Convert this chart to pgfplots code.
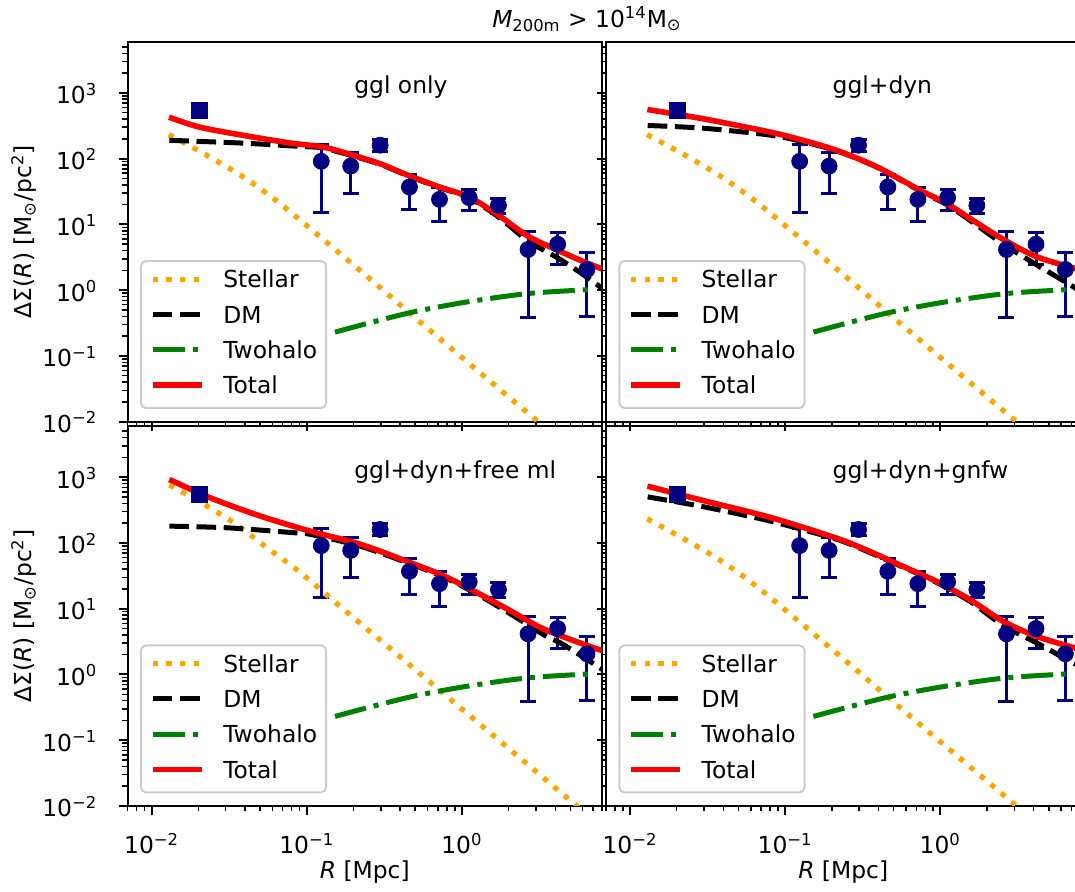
\documentclass[border=0pt]{standalone}
\usepackage{fontspec}
\setmainfont{DejaVu Sans}
\usepackage{pgfplots}
\pgfplotsset{compat=1.18}
\usepackage{pgfplotstable}
\definecolor{navy}{HTML}{000080}
\definecolor{mplorange}{HTML}{FFA500}
\definecolor{mplgreen}{HTML}{008000}
\definecolor{mplred}{HTML}{FF0000}
\newcommand{\fs}{\fontsize{11.7pt}{14pt}\selectfont}

\pgfplotstableread{
x y ep em
0.124 91 74 76
0.192 77 46 47.7
0.297 160 36 32
0.459 37 20 20.3
0.717 24 13 13.1
1.114 25.5 8.2 9.1
1.72 19.5 5.5 4.9
2.67 4.15 3.55 3.76
4.14 5.0 2.4 2.55
6.4 2.06 1.74 1.66
}\datatab

\pgfplotsset{
  legend image code/.code={\draw[#1] (0pt,4.3pt) -- (24.5pt,4.3pt);},
  every axis/.append style={
    scale only axis, width=237.2pt, height=190pt, anchor=south west,
    xmin=0.007, xmax=8, ymin=0.01, ymax=6000,
    tick align=outside, xtick pos=bottom, ytick pos=left,
    xtick={0.01,0.1,1}, ytick={0.01,0.1,1,10,100,1000},
    minor xtick={0.007,0.008,0.009,0.02,0.03,0.04,0.05,0.06,0.07,0.08,0.09,0.2,0.3,0.4,0.5,0.6,0.7,0.8,0.9,2,3,4,5,6,7,8},
    minor ytick={0.02,0.03,0.04,0.05,0.06,0.07,0.08,0.09,0.2,0.3,0.4,0.5,0.6,0.7,0.8,0.9,2,3,4,5,6,7,8,9,20,30,40,50,60,70,80,90,200,300,400,500,600,700,800,900,2000,3000,4000,5000},
    major tick length=4.5pt, minor tick length=2.6pt,
    every tick/.append style={black},
    every major tick/.append style={line width=1pt},
    every minor tick/.append style={line width=0.75pt},
    axis line style={line width=1pt},
    xticklabel style={font=\fs, anchor=base, inner sep=0pt, yshift=-19.5pt},
    yticklabel style={font=\fs, anchor=base east, inner sep=0pt, xshift=-10.5pt, yshift=-5.5pt},
    every axis y label/.style={at={(axis description cs:-0.2184,0.5)}, rotate=90, anchor=center, font=\fs},
    every axis x label/.style={at={(axis description cs:0.5,-0.1895)}, anchor=base, font=\fs},
    legend cell align=left,
    legend style={at={(0.0261,0.0334)}, anchor=south west, draw=black!20, line width=1pt,
      rounded corners=2.5pt, fill=white, font=\fs, inner xsep=4.5pt, inner ysep=4.9pt,
      row sep=6.95pt, column sep=9.35pt,
      cells={anchor=base west},
      nodes={inner sep=0pt, text height=8.5pt, text depth=2.2pt}},
  },
  stellar/.style={color=mplorange, line width=2.6pt, dash pattern=on 2.6pt off 4.2pt, smooth, tension=0.5},
  dm/.style={color=black, line width=2.5pt, dash pattern=on 9.8pt off 3.8pt, smooth, tension=0.5},
  twoh/.style={color=mplgreen, line width=2.5pt, dash pattern=on 16pt off 4pt on 2.5pt off 4pt, smooth, tension=0.5},
  total/.style={color=mplred, line width=2.8pt, smooth, tension=0.5},
}

\newcommand{\xlabs}{10\textsuperscript{−2},10\textsuperscript{−1},10\textsuperscript{0}}
\newcommand{\ylabs}{10\textsuperscript{−2},10\textsuperscript{−1},10\textsuperscript{0},10\textsuperscript{1},10\textsuperscript{2},10\textsuperscript{3}}

\newcommand{\datapts}{%
  \addplot[forget plot, only marks, mark=*, mark size=4pt, color=navy,
    error bars/.cd, y dir=both, y explicit, error mark=-,
    error bar style={line width=1.5pt, color=navy},
    error mark options={rotate=90, line width=1.5pt, mark size=4pt, color=navy}]
    table[x=x, y=y, y error plus=ep, y error minus=em] {\datatab};
  \addplot[forget plot, only marks, mark=square*, mark size=4pt, color=navy] coordinates {(0.0202,545)};
}
\newcommand{\twohalo}{%
  \addplot[twoh] coordinates {(0.152,0.230) (0.251,0.316) (0.49,0.468) (1.07,0.66) (2.69,0.89) (6.76,1.02)};
  \addlegendentry{Twohalo}
}
\newcommand{\stellarstd}{%
  \addplot[stellar] coordinates {(0.0129,232) (0.02377,105.4) (0.04055,49.5) (0.0673,20.7) (0.1279,5.875) (0.2438,1.629) (0.4634,0.4426) (0.879,0.1227) (1.663,0.03451) (3.141,0.00971) (8.0,0.00148)};
  \addlegendentry{Stellar}
}

\begin{document}
\begin{tikzpicture}
% top left: ggl only
\begin{loglogaxis}[at={(63.8pt,235.15pt)}, xticklabels={}, yticklabels/.expand once={\ylabs},
  ylabel={ΔΣ({\itshape R}) [M\textsubscript{⊙}/pc\textsuperscript{2}]}]
  \datapts
  \stellarstd
  \addplot[dm] coordinates {(0.0130,190) (0.0390,172) (0.0794,156) (0.1279,146) (0.16,126) (0.192,112.7) (0.297,82) (0.40,61.4) (0.513,48.6) (0.718,36.2) (1.114,25.2) (1.72,13) (2.67,5.6) (4.14,3.1) (5.794,1.85) (8.0,1.07)};
  \addlegendentry{DM}
  \twohalo
  \addplot[total] coordinates {(0.01294,427) (0.0205,300) (0.0431,217) (0.0794,172) (0.1279,150) (0.192,115.6) (0.297,83.6) (0.40,62.4) (0.513,49.5) (0.718,37) (1.114,26) (1.72,13.8) (2.67,6.6) (4.14,4.05) (5.794,2.85) (8.0,2.1)};
  \addlegendentry{Total}
  \node[anchor=base west, inner sep=0pt, font=\fs] at (rel axis cs:0.477,0.863) {ggl only};
\end{loglogaxis}
% top right: ggl+dyn
\begin{loglogaxis}[at={(303pt,235.15pt)}, xticklabels={}, yticklabels={}]
  \datapts
  \stellarstd
  \addplot[dm] coordinates {(0.0130,319) (0.02972,290) (0.07998,228) (0.1312,180) (0.2158,130.6) (0.3532,82.5) (0.4753,58.1) (0.743,32.1) (1.104,19.9) (1.563,11.4) (2.559,4.98) (4.207,2.4) (6.9,1.2) (8.0,0.95)};
  \addlegendentry{DM}
  \twohalo
  \addplot[total] coordinates {(0.01294,558) (0.02972,403) (0.07998,253) (0.1312,189) (0.2158,133) (0.3532,83.6) (0.4753,59.0) (0.743,32.9) (1.104,20.7) (1.563,12.2) (2.559,5.875) (4.207,3.2) (7.447,2.133) (8.0,2.0)};
  \addlegendentry{Total}
  \node[anchor=base west, inner sep=0pt, font=\fs] at (rel axis cs:0.477,0.863) {ggl+dyn};
\end{loglogaxis}
% bottom left: ggl+dyn+free ml
\begin{loglogaxis}[at={(63.8pt,43pt)},
  xticklabels/.expand once={\xlabs}, yticklabels/.expand once={\ylabs},
  xlabel={{\itshape R} [Mpc]},
  ylabel={ΔΣ({\itshape R}) [M\textsubscript{⊙}/pc\textsuperscript{2}]}]
  \datapts
  \addplot[stellar] coordinates {(0.0130,760) (0.01959,448) (0.03381,203) (0.05546,84.5) (0.09099,35.3) (0.1493,13.1) (0.2449,4.887) (0.3926,1.923) (0.7464,0.5333) (1.419,0.1483) (2.704,0.04121) (5.152,0.01143) (8.0,0.00479)};
  \addlegendentry{Stellar}
  \addplot[dm] coordinates {(0.0130,180) (0.03062,170) (0.0824,143) (0.1054,135) (0.2218,89) (0.4656,48) (0.7656,30.2) (1.256,16.6) (2.061,8.3) (3.381,4.0) (4.33,3.0) (6.12,1.81) (8.0,1.2)};
  \addlegendentry{DM}
  \twohalo
  \addplot[total] coordinates {(0.0130,923) (0.02388,485) (0.05023,256) (0.1054,151) (0.2218,95.3) (0.4656,50.1) (0.7656,31.5) (1.256,17.5) (2.061,9.27) (3.381,4.89) (7.278,2.48) (8.0,2.38)};
  \addlegendentry{Total}
  \node[anchor=base west, inner sep=0pt, font=\fs] at (rel axis cs:0.477,0.863) {ggl+dyn+free ml};
\end{loglogaxis}
% bottom right: ggl+dyn+gnfw
\begin{loglogaxis}[at={(303pt,43pt)}, yticklabels={},
  xticklabels/.expand once={\xlabs},
  xlabel={{\itshape R} [Mpc]}]
  \datapts
  \stellarstd
  \addplot[dm] coordinates {(0.0130,501) (0.02972,355) (0.07998,215) (0.2158,113) (0.3532,71) (0.5794,42.5) (0.9528,24.9) (1.563,12.8) (2.559,5.5) (4.207,3.0) (6.9,1.57) (8.0,1.35)};
  \addlegendentry{DM}
  \twohalo
  \addplot[total] coordinates {(0.01294,730) (0.02972,440) (0.07998,245) (0.2158,117.5) (0.3532,73.6) (0.5794,43.6) (0.9528,25.8) (1.563,13.6) (2.559,6.37) (4.207,3.78) (7.447,2.51) (8.0,2.42)};
  \addlegendentry{Total}
  \node[anchor=base west, inner sep=0pt, font=\fs] at (rel axis cs:0.477,0.863) {ggl+dyn+gnfw};
\end{loglogaxis}
\node[anchor=base, font=\fs] at (293.5pt,432.35pt) {{\itshape M}\textsubscript{200m} > 10\textsuperscript{14}M\textsubscript{⊙}};
\pgfresetboundingbox
\path[use as bounding box] (0,0) rectangle (537.5pt,446pt);
\end{tikzpicture}
\end{document}
